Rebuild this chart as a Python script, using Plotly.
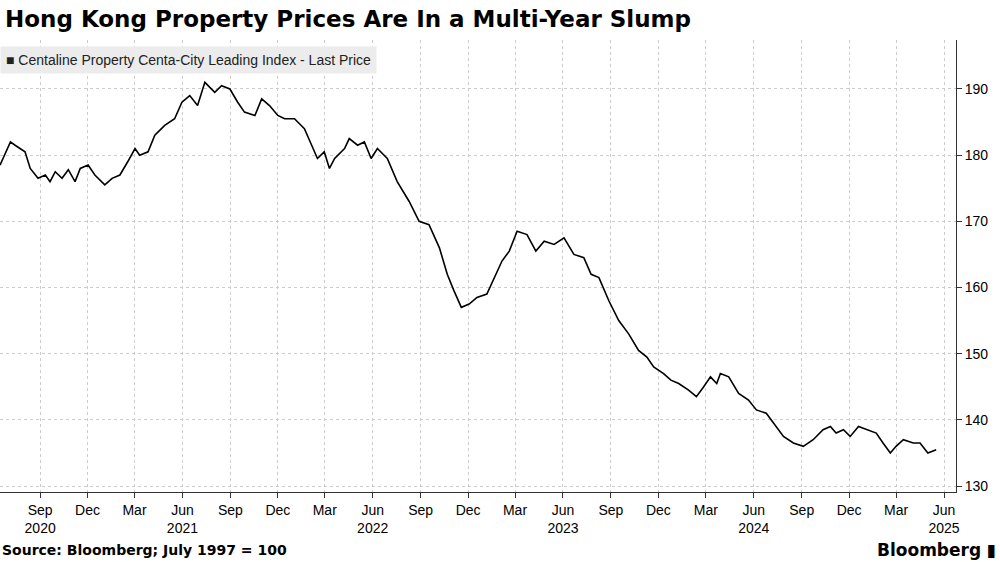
import pandas as pd
import plotly.graph_objects as go

# days elapsed since 2020-09-01, and index value
days = [-77,-57,-48,-29,-19,-4,10,19,29,42,54,67,77,92,105,124,138,153,168,182,191,207,220,239,258,272,287,302,316,335,348,364,379,392,412,425,440,456,469,488,507,521,532,545,555,565,584,593,609,622,635,647,666,685,708,727,746,766,781,794,808,823,838,857,871,886,900,915,934,951,967,986,1005,1024,1043,1057,1072,1091,1110,1129,1148,1164,1177,1196,1210,1225,1244,1259,1273,1286,1298,1305,1321,1340,1359,1374,1393,1407,1426,1445,1464,1483,1502,1516,1527,1541,1554,1570,1589,1604,1617,1631,1642,1656,1675,1688,1703,1719]
values = [178.5,182,181.5,180.5,178,176.5,177,176,177.5,176.5,177.8,176,178,178.5,177,175.5,176.5,177,179,181,180,180.5,183,184.5,185.5,188,189,187.5,191,189.5,190.5,190,188,186.5,186,188.5,187.5,186,185.5,185.5,184,181.5,179.5,180.5,178,179.5,181,182.5,181.5,182,179.5,181,179.5,176,173,170,169.5,166,162,159.5,157,157.5,158.5,159,161.5,164,165.5,168.5,168,165.5,167,166.5,167.5,165,164.5,162,161.5,158,155,153,150.5,149.5,148,147,146,145.5,144.5,143.5,145,146.5,145.5,147,146.5,144,143,141.5,141,139.5,137.5,136.5,136,137,138.5,139,138,138.5,137.5,139,138.5,138,136.5,135,136,137,136.5,136.5,135,135.5]

tick_dates = ["2020-09-01","2020-12-01","2021-03-01","2021-06-01","2021-09-01","2021-12-01","2022-03-01","2022-06-01","2022-09-01","2022-12-01","2023-03-01","2023-06-01","2023-09-01","2023-12-01","2024-03-01","2024-06-01","2024-09-01","2024-12-01","2025-03-01","2025-06-01"]
tick_text = ["Sep<br>2020","Dec","Mar","Jun<br>2021","Sep","Dec","Mar","Jun<br>2022","Sep","Dec","Mar","Jun<br>2023","Sep","Dec","Mar","Jun<br>2024","Sep","Dec","Mar","Jun<br>2025"]
y_ticks = [130,140,150,160,170,180,190]

base = pd.Timestamp("2020-09-01")
dates = [base + pd.Timedelta(days=d) for d in days]

fig = go.Figure(go.Scatter(x=dates, y=values, mode="lines",
                           line=dict(color="black", width=1.6), hoverinfo="skip"))
fig.update_layout(
    width=1000, height=562, paper_bgcolor="white", plot_bgcolor="white",
    margin=dict(l=0, r=44, t=40, b=70, autoexpand=False), showlegend=False,
    font=dict(family="Liberation Sans, Arial", color="black", size=14),
    title=dict(text="<b>Hong Kong Property Prices Are In a Multi-Year Slump</b>",
               x=0.005, xanchor="left", y=0.98, yanchor="top",
               font=dict(size=23, family="DejaVu Sans", color="black")),
    xaxis=dict(range=[dates[0], base + pd.Timedelta(days=1757)],
               tickvals=tick_dates, ticktext=tick_text, showgrid=True,
               gridcolor="#cccccc", griddash="dot", ticks="outside", ticklen=5,
               tickcolor="#333", showline=True, linecolor="#333",
               tickfont=dict(size=14)),
    yaxis=dict(side="right", range=[129.1, 197.4], tickvals=y_ticks,
               showgrid=True, gridcolor="#cccccc", griddash="dot",
               ticks="outside", ticklen=5, tickcolor="#333", showline=True,
               linecolor="#333", tickfont=dict(size=14), zeroline=False),
)
fig.add_annotation(text="■ Centaline Property Centa-City Leading Index - Last Price",
                   xref="paper", yref="paper", x=0.0, y=1.0, yshift=-6, xanchor="left", yanchor="top",
                   showarrow=False, bgcolor="#ececec", borderpad=5,
                   font=dict(size=14, color="#222"))
fig.add_annotation(text="<b>Source: Bloomberg; July 1997 = 100</b>", xref="paper", yref="paper",
                   x=0.0, y=0, yshift=-58, xanchor="left", yanchor="middle", showarrow=False,
                   font=dict(size=14, family="DejaVu Sans"))
fig.add_annotation(text="<b>Bloomberg</b> ▮", xref="paper", yref="paper",
                   x=1, xshift=42, y=0, yshift=-58, xanchor="right", yanchor="middle",
                   showarrow=False, font=dict(size=17, family="DejaVu Sans"))
fig.write_html("out.html", config={"displayModeBar": False},
               post_script="document.body.style.margin='0';document.body.style.overflow='hidden';")
